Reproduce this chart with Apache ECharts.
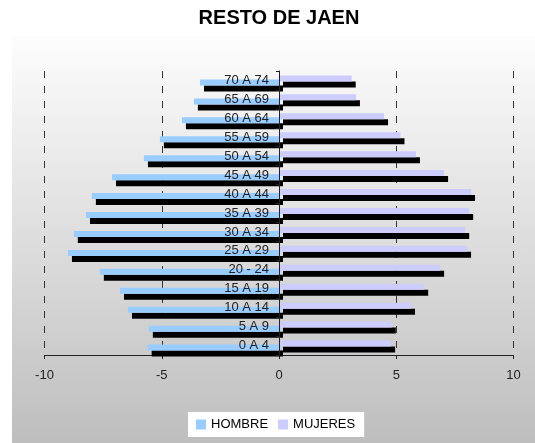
<!DOCTYPE html>
<html>
<head>
<meta charset="utf-8">
<script src="https://cdn.jsdelivr.net/npm/echarts@6/dist/echarts.min.js"></script>
<style>
	html, body {margin: 0; padding: 0; background: #fff;}
	#main {width: 535px; height: 443px;}
</style>
</head>
<body>
<div id="main"></div>
<script>
// grupos de edad, de abajo arriba
var categories = ['0 A 4', '5 A 9', '10 A 14', '15 A 19', '20 - 24', '25 A 29', '30 A 34',
	'35 A 39', '40 A 44', '45 A 49', '50 A 54', '55 A 59', '60 A 64', '65 A 69', '70 A 74'];
var hombre = [-5.6, -5.55, -6.44, -6.78, -7.64, -9.0, -8.75, -8.23, -7.98, -7.12, -5.76, -5.08, -4.14, -3.63, -3.37];
var mujeres = [4.78, 4.81, 5.63, 6.19, 6.87, 8.02, 7.94, 8.11, 8.19, 7.04, 5.84, 5.18, 4.48, 3.28, 3.10];
var xTicks = [-10, -5, 0, 5, 10];

var font = '"Liberation Sans", Arial, sans-serif';
var myChart = echarts.init(document.getElementById('main'));

var gridLeft = 44.5, gridRight = 21.5;
// el eje de categorias va sobre el cero
var zeroOffset = (535 - gridLeft - gridRight) / 2;

function barSeries(name, values, color) {
	return {
		name: name,
		type: 'bar',
		data: values,
		barWidth: 6,
		barGap: '-32%',
		itemStyle: {
			color: color,
			shadowColor: '#000',
			shadowBlur: 0,
			shadowOffsetX: 4,
			shadowOffsetY: 6
		}
	};
}

option = {
	animation: false,
	textStyle: {fontFamily: font},
	graphic: [{
		type: 'rect',
		z: -10,
		silent: true,
		shape: {x: 12, y: 36, width: 523, height: 407},
		style: {
			fill: new echarts.graphic.LinearGradient(0, 0, 0, 1, [
				{offset: 0, color: '#fdfdfd'},
				{offset: 1, color: '#bebebe'}
			])
		}
	}],
	title: {
		text: 'RESTO DE JAEN',
		left: 279,
		textAlign: 'center',
		top: 8,
		padding: 0,
		textStyle: {fontFamily: font, fontSize: 20, fontWeight: 'bold', color: '#000'}
	},
	legend: {
		data: ['HOMBRE', 'MUJERES'],
		left: 188,
		bottom: 6,
		backgroundColor: '#fff',
		padding: [6, 9, 6, 8],
		itemGap: 10,
		itemWidth: 10,
		itemHeight: 10,
		icon: 'rect',
		textStyle: {fontFamily: font, fontSize: 13, color: '#000'}
	},
	grid: {left: gridLeft, right: gridRight, top: 71, bottom: 88, containLabel: false, outerBoundsMode: 'none'},
	xAxis: {
		type: 'value',
		min: xTicks[0],
		max: xTicks[xTicks.length - 1],
		interval: 5,
		axisLine: {show: true, onZero: false, lineStyle: {color: '#222'}},
		axisTick: {show: true, length: 4, lineStyle: {color: '#222'}},
		axisLabel: {fontSize: 13, color: '#222', margin: 14, fontFamily: font},
		splitLine: {show: true, lineStyle: {color: '#333', type: [7, 8]}}
	},
	yAxis: {
		type: 'category',
		data: categories,
		z: 5,
		offset: -zeroOffset,
		axisLine: {onZero: false, lineStyle: {color: '#222'}},
		axisTick: {show: true, length: 3, lineStyle: {color: '#222'}},
		axisLabel: {fontSize: 13, color: '#222', margin: 10, fontFamily: font}
	},
	series: [
		barSeries('MUJERES', mujeres, '#ccccff'),
		barSeries('HOMBRE', hombre, '#99ccff')
	]
};
myChart.setOption(option);
</script>
</body>
</html>
